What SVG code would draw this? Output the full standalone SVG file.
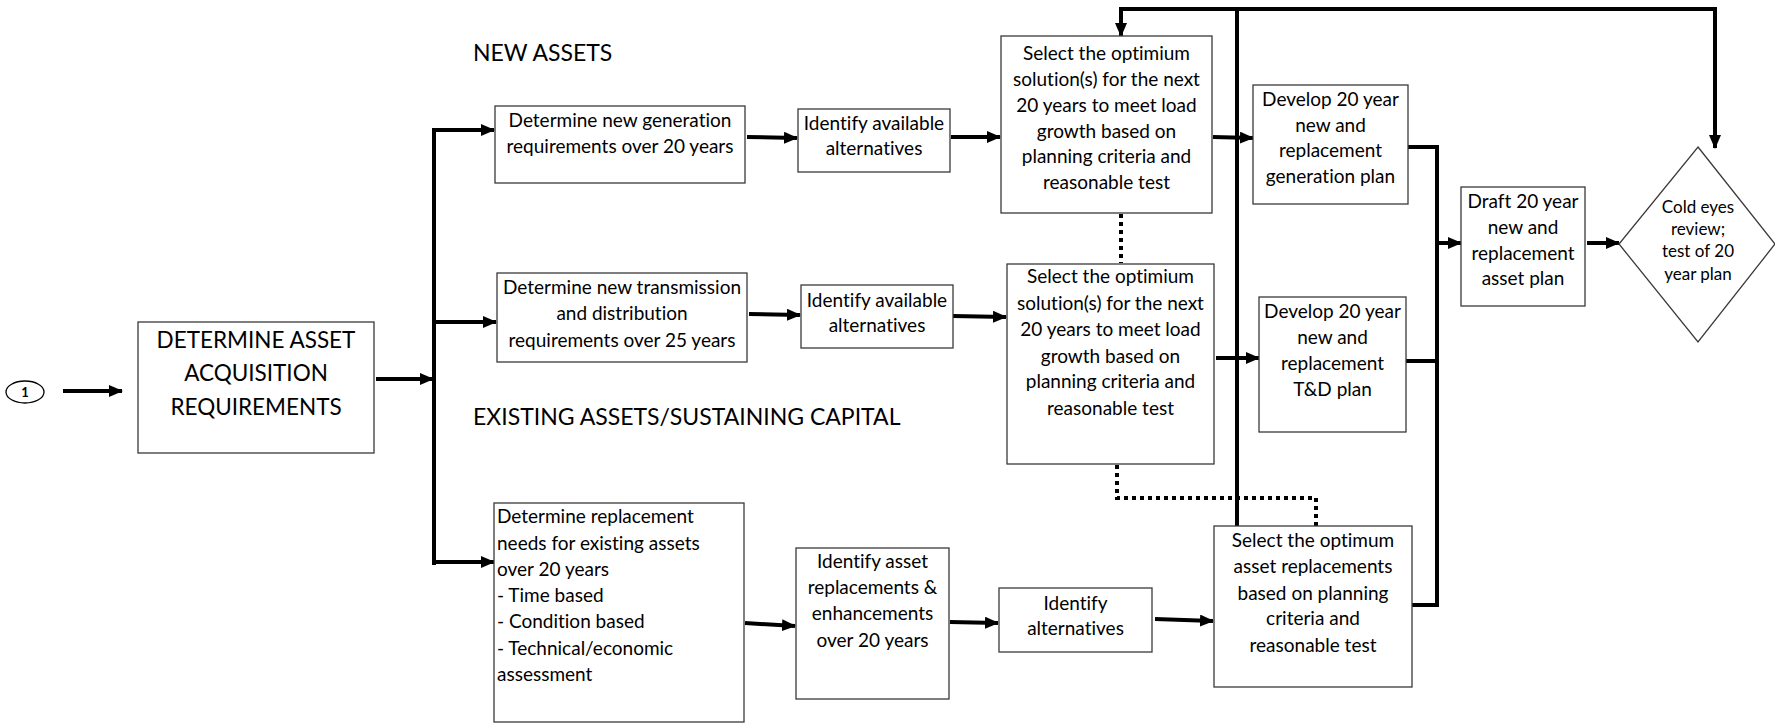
<svg xmlns="http://www.w3.org/2000/svg" width="1775" height="728" viewBox="0 0 1775 728">
  <style>
    text { font-family: Lato, "Liberation Sans", sans-serif; fill: #000; font-variant-ligatures: none; }
    .box { fill: #ffffff; stroke: #3a3a3a; stroke-width: 1.3; }
    .t { font-size: 19px; text-anchor: middle; }
    .tl { font-size: 19px; }
    .big { font-size: 22.5px; text-anchor: middle; }
    .head { font-size: 23px; }
    .small { font-size: 17px; text-anchor: middle; }
    .wire { fill: none; stroke: #000; stroke-width: 4; }
    .arrow { fill: none; stroke: #000; stroke-width: 4; marker-end: url(#head); }
    .dots { fill: none; stroke: #000; stroke-width: 4; stroke-dasharray: 4 4; }
  </style>
  <defs>
    <marker id="head" markerUnits="userSpaceOnUse" markerWidth="14" markerHeight="12" refX="13" refY="6" orient="auto">
      <path d="M0,0 L14,6 L0,12 Z" fill="#000"/>
    </marker>
  </defs>

  <rect width="1775" height="728" fill="#ffffff"/>

  <!-- section headings -->
  <text class="head" x="473" y="61">NEW ASSETS</text>
  <text class="head" x="473" y="425">EXISTING ASSETS/SUSTAINING CAPITAL</text>

  <!-- connectors -->
  <g id="connectors">
    <path class="arrow" d="M63,391 H122"/>
    <path class="arrow" d="M376,379 H433"/>
    <path class="wire" d="M434,128 V565"/>
    <path class="arrow" d="M432,130 H494"/>
    <path class="arrow" d="M434,322 H496"/>
    <path class="arrow" d="M432,562 H494"/>
    <path class="arrow" d="M747,137 L797,138"/>
    <path class="arrow" d="M951,137 L1000,137"/>
    <path class="arrow" d="M749,314 L800,315"/>
    <path class="arrow" d="M953,316 L1006,317"/>
    <path class="arrow" d="M1213,137 L1253,138"/>
    <path class="arrow" d="M1216,358 H1259"/>
    <path class="arrow" d="M745,623 L795,626"/>
    <path class="arrow" d="M950,622 L998,623"/>
    <path class="arrow" d="M1155,619 L1213,621"/>
    <!-- collector bracket from the three plans -->
    <path class="wire" d="M1408,147 H1437 V605 H1412"/>
    <path class="wire" d="M1406,361 H1437"/>
    <path class="arrow" d="M1437,243 H1461"/>
    <path class="arrow" d="M1587,243 H1619"/>
    <!-- feedback loop across the top -->
    <path class="wire" d="M1119,9 H1717"/>
    <path class="arrow" d="M1121,7 V36"/>
    <path class="arrow" d="M1715,7 V148"/>
    <path class="wire" d="M1237,7 V527"/>
    <!-- dotted links between the optimisation steps -->
    <path class="dots" d="M1121,214 V263"/>
    <path class="dots" d="M1117,465 V498 H1316 V526"/>
  </g>

  <g id="start">
    <ellipse cx="25" cy="392" rx="19" ry="11" fill="#fff" stroke="#000" stroke-width="1.3"/>
    <text x="25" y="397" font-size="13" font-weight="bold" text-anchor="middle">1</text>
  </g>

  <g id="acquisition">
    <rect class="box" x="138" y="322" width="236" height="131"/>
    <text class="big" x="256" y="348">DETERMINE ASSET</text>
    <text class="big" x="256" y="381">ACQUISITION</text>
    <text class="big" x="256" y="415">REQUIREMENTS</text>
  </g>

  <g id="gen-req">
    <rect class="box" x="495" y="106" width="250" height="77"/>
    <text class="t" x="620" y="127">Determine new generation</text>
    <text class="t" x="620" y="153">requirements over 20 years</text>
  </g>

  <g id="gen-alt">
    <rect class="box" x="798" y="109" width="152" height="63"/>
    <text class="t" x="874" y="130">Identify available</text>
    <text class="t" x="874" y="155">alternatives</text>
  </g>

  <g id="gen-select">
    <rect class="box" x="1001" y="36" width="211" height="177"/>
    <text class="t" x="1106.5" y="60">Select the optimium</text>
    <text class="t" x="1106.5" y="86">solution(s) for the next</text>
    <text class="t" x="1106.5" y="112">20 years to meet load</text>
    <text class="t" x="1106.5" y="138">growth based on</text>
    <text class="t" x="1106.5" y="163">planning criteria and</text>
    <text class="t" x="1106.5" y="189">reasonable test</text>
  </g>

  <g id="gen-plan">
    <rect class="box" x="1253" y="85" width="155" height="119"/>
    <text class="t" x="1330.5" y="106">Develop 20 year</text>
    <text class="t" x="1330.5" y="132">new and</text>
    <text class="t" x="1330.5" y="157">replacement</text>
    <text class="t" x="1330.5" y="183">generation plan</text>
  </g>

  <g id="td-req">
    <rect class="box" x="497" y="273" width="250" height="89"/>
    <text class="t" x="622" y="294">Determine new transmission</text>
    <text class="t" x="622" y="320">and distribution</text>
    <text class="t" x="622" y="347">requirements over 25 years</text>
  </g>

  <g id="td-alt">
    <rect class="box" x="801" y="285" width="152" height="63"/>
    <text class="t" x="877" y="307">Identify available</text>
    <text class="t" x="877" y="332">alternatives</text>
  </g>

  <g id="td-select">
    <rect class="box" x="1007" y="264" width="207" height="200"/>
    <text class="t" x="1110.5" y="283">Select the optimium</text>
    <text class="t" x="1110.5" y="310">solution(s) for the next</text>
    <text class="t" x="1110.5" y="336">20 years to meet load</text>
    <text class="t" x="1110.5" y="363">growth based on</text>
    <text class="t" x="1110.5" y="388">planning criteria and</text>
    <text class="t" x="1110.5" y="415">reasonable test</text>
  </g>

  <g id="td-plan">
    <rect class="box" x="1259" y="297" width="147" height="135"/>
    <text class="t" x="1332.5" y="318">Develop 20 year</text>
    <text class="t" x="1332.5" y="344">new and</text>
    <text class="t" x="1332.5" y="370">replacement</text>
    <text class="t" x="1332.5" y="396">T&amp;D plan</text>
  </g>

  <g id="repl-needs">
    <rect class="box" x="494" y="503" width="250" height="219"/>
    <text class="tl" x="497" y="523">Determine replacement</text>
    <text class="tl" x="497" y="550">needs for existing assets</text>
    <text class="tl" x="497" y="576">over 20 years</text>
    <text class="tl" x="497" y="602">- Time based</text>
    <text class="tl" x="497" y="628">- Condition based</text>
    <text class="tl" x="497" y="655">- Technical/economic</text>
    <text class="tl" x="497" y="681">assessment</text>
  </g>

  <g id="repl-identify">
    <rect class="box" x="796" y="548" width="153" height="151"/>
    <text class="t" x="872.5" y="568">Identify asset</text>
    <text class="t" x="872.5" y="594">replacements &amp;</text>
    <text class="t" x="872.5" y="620">enhancements</text>
    <text class="t" x="872.5" y="647">over 20 years</text>
  </g>

  <g id="repl-alt">
    <rect class="box" x="999" y="588" width="153" height="64"/>
    <text class="t" x="1075.5" y="610">Identify</text>
    <text class="t" x="1075.5" y="635">alternatives</text>
  </g>

  <g id="repl-select">
    <rect class="box" x="1214" y="526" width="198" height="161"/>
    <text class="t" x="1313" y="547">Select the optimum</text>
    <text class="t" x="1313" y="573">asset replacements</text>
    <text class="t" x="1313" y="600">based on planning</text>
    <text class="t" x="1313" y="625">criteria and</text>
    <text class="t" x="1313" y="652">reasonable test</text>
  </g>

  <g id="draft-plan">
    <rect class="box" x="1461" y="187" width="124" height="119"/>
    <text class="t" x="1523" y="208">Draft 20 year</text>
    <text class="t" x="1523" y="234">new and</text>
    <text class="t" x="1523" y="260">replacement</text>
    <text class="t" x="1523" y="285">asset plan</text>
  </g>

  <g id="review">
    <path class="box" d="M1698,147 L1775,244 L1698,342 L1619,244 Z"/>
    <text class="small" x="1698" y="213">Cold eyes</text>
    <text class="small" x="1698" y="235">review;</text>
    <text class="small" x="1698" y="257">test of 20</text>
    <text class="small" x="1698" y="280">year plan</text>
  </g>
</svg>
